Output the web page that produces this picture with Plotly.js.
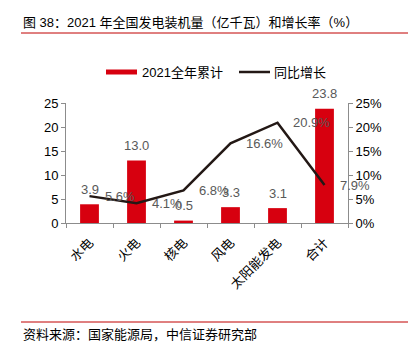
<!DOCTYPE html>
<html><head><meta charset="utf-8">
<script src="https://cdn.plot.ly/plotly-3.0.1.min.js"></script>
<style>html,body{margin:0;padding:0;background:#fff}#c{width:408px;height:346px}</style>
</head><body><div id="c"></div>
<script>
const categories = ["水电","火电","核电","风电","太阳能发电","合计"];
const capacity = [3.9, 13.0, 0.5, 3.3, 3.1, 23.8];
const growth = [5.6, 4.1, 6.8, 16.6, 20.9, 7.9];
const seriesNames = ["2021全年累计","同比增长"];
const titleText = "图 38：2021 年全国发电装机量（亿千瓦）和增长率（%）";
const sourceText = "资料来源：国家能源局，中信证券研究部";

const FONT = '"Liberation Sans", "Noto Sans CJK SC", Arial, sans-serif';
const RED = '#d7000f', DARK = '#231815', GRAY = '#595959';
const L = 66, T = 103, W = 282, H = 120;
const px = x => (x - L) / W;
const py = y => (T + H - y) / H;

const traces = [
  {type:'bar', name:seriesNames[0], x:categories, y:capacity, marker:{color:RED},
   showlegend:false, hoverinfo:'none'},
  {type:'scatter', mode:'lines', name:seriesNames[1], x:categories, y:growth, yaxis:'y2',
   line:{color:DARK,width:2.5}, showlegend:false, hoverinfo:'none'}
];

const axisCommon = {showline:true, linecolor:'#8c8c8c', linewidth:1, ticks:'outside', ticklen:4,
  tickcolor:'#8c8c8c', showgrid:false, zeroline:false, tickfont:{size:13,color:'#000',family:FONT}};

const labelFont = {size:13, color:GRAY, family:FONT};
const barLabels = categories.map((c,i)=>({xref:'x', yref:'y', x:c, y:capacity[i], yshift:15,
  xanchor:'center', yanchor:'middle', showarrow:false, text:capacity[i].toFixed(1), font:labelFont}));
const lineLabels = categories.map((c,i)=>({xref:'x', yref:'y2', x:c, y:growth[i], xshift:13,
  xanchor:'left', yanchor:'middle', showarrow:false, text:growth[i].toFixed(1)+'%', font:labelFont}));

const layout = {
  width:408, height:346, margin:{l:L, r:408-L-W, t:T, b:346-T-H, pad:0},
  paper_bgcolor:'#fff', plot_bgcolor:'#fff', font:{family:FONT},
  bargap:0.6, showlegend:false,
  xaxis: Object.assign({}, axisCommon, {tickangle:-45, tickson:'boundaries', ticklabelstandoff:6,
    range:[-0.5, categories.length-0.5], autorange:false}),
  yaxis: Object.assign({}, axisCommon, {range:[0,25], dtick:5}),
  yaxis2: Object.assign({}, axisCommon, {range:[0,25], dtick:5, overlaying:'y', side:'right', ticksuffix:'%'}),
  shapes:[
    {type:'line', xref:'paper', yref:'paper', x0:px(21), x1:px(408), y0:py(33), y1:py(33), line:{color:'#c00000',width:1}},
    {type:'line', xref:'paper', yref:'paper', x0:px(21), x1:px(408), y0:py(322), y1:py(322), line:{color:'#c00000',width:1}},
    {type:'rect', xref:'paper', yref:'paper', x0:px(106), x1:px(137), y0:py(74.5), y1:py(69.5), fillcolor:RED, line:{width:0}},
    {type:'line', xref:'paper', yref:'paper', x0:px(239), x1:px(270), y0:py(72), y1:py(72), line:{color:DARK,width:2.5}}
  ],
  annotations:[
    {xref:'paper', yref:'paper', x:px(21), y:py(22), xanchor:'left', yanchor:'middle', showarrow:false,
     text:titleText, font:{size:13,color:'#000',family:FONT}},
    {xref:'paper', yref:'paper', x:px(21), y:py(334), xanchor:'left', yanchor:'middle', showarrow:false,
     text:sourceText, font:{size:13,color:'#000',family:FONT}},
    {xref:'paper', yref:'paper', x:px(140), y:py(72), xanchor:'left', yanchor:'middle', showarrow:false,
     text:seriesNames[0], font:{size:13,color:'#000',family:FONT}},
    {xref:'paper', yref:'paper', x:px(272), y:py(72), xanchor:'left', yanchor:'middle', showarrow:false,
     text:seriesNames[1], font:{size:13,color:'#000',family:FONT}}
  ].concat(barLabels, lineLabels)
};
Plotly.newPlot('c', traces, layout, {staticPlot:true, displayModeBar:false});
</script></body></html>
